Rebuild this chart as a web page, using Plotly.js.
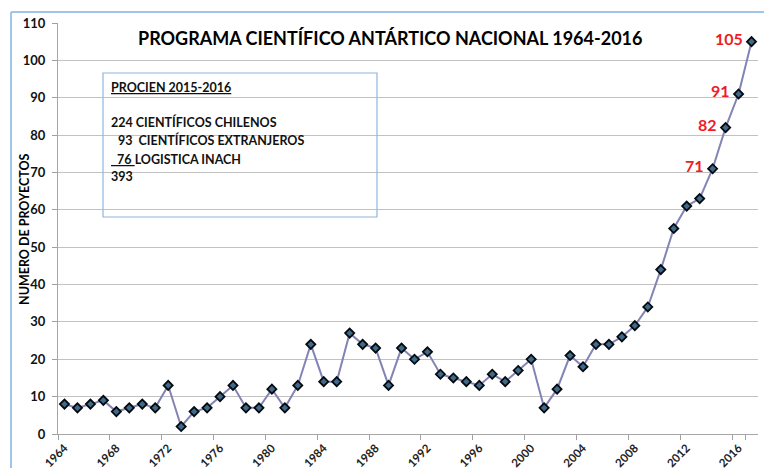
<!DOCTYPE html>
<html><head><meta charset="utf-8">
<script src="https://cdn.plot.ly/plotly-3.0.1.min.js"></script>
<style>html,body{margin:0;padding:0;background:#fff}#chart{width:764px;height:468px}</style>
</head><body><div id="chart"></div>
<script>
const years = ["1964","1965","1966","1967","1968","1969","1970","1971","1972","1973",
  "1974","1975","1976","1977","1978","1979","1980","1981","1982","1983",
  "1984","1985","1986","1987","1988","1989","1990","1991","1992","1993",
  "1994","1995","1996","1997","1998","1999","2000","2001","2002","2003",
  "2004","2005","2006","2007","2008","2009","2010","2011","2012","2013",
  "2014","2015","2016","2017"];
const projects = [8,7,8,9,6,7,8,7,13,2,
  6,7,10,13,7,7,12,7,13,24,
  14,14,27,24,23,13,23,20,22,16,
  15,14,13,16,14,17,20,7,12,21,
  18,24,24,26,29,34,44,55,61,63,
  71,82,91,105];
const tickYears = ["1964","1968","1972","1976","1980","1984","1988","1992","1996","2000","2004","2008","2012","2016"];
const labeledYears = ["2014","2015","2016","2017"];
const chartTitle = "PROGRAMA CIENTÍFICO ANTÁRTICO NACIONAL 1964-2016";
const yTitle = "NUMERO DE PROYECTOS";
const boxHeader = "PROCIEN 2015-2016";
const boxLines = ["224 CIENTÍFICOS CHILENOS", "93\u00a0\u00a0CIENTÍFICOS EXTRANJEROS", "LOGISTICA INACH", "393"];
const logisticaCount = "76";

const L = 58, T = 23, W = 700, H = 411;
const px = x => (x - L) / W;
const py = y => (T + H - y) / H;
const FONT = "Lato, 'Open Sans', sans-serif";

const annotations = [];
annotations.push({xref:'paper', yref:'paper', x:px(390), y:py(38), xanchor:'center', yanchor:'middle',
  text:'<b>'+chartTitle+'</b>', showarrow:false, font:{family:FONT, size:18, color:'#000'}});
annotations.push({xref:'paper', yref:'paper', x:px(24), y:py(229), xanchor:'center', yanchor:'middle',
  text:'<b>'+yTitle+'</b>', textangle:-90, showarrow:false, font:{family:FONT, size:12.5, color:'#000'}});

const boxFont = {family:FONT, size:12.5, color:'#111'};
annotations.push({xref:'paper', yref:'paper', x:px(109), y:py(87), xanchor:'left', yanchor:'middle',
  text:'<b><u>'+boxHeader+'</u></b>', showarrow:false, font:boxFont});
annotations.push({xref:'paper', yref:'paper', x:px(109), y:py(122), xanchor:'left', yanchor:'middle',
  text:'<b>'+boxLines[0]+'</b>', showarrow:false, font:boxFont});
annotations.push({xref:'paper', yref:'paper', x:px(116), y:py(140), xanchor:'left', yanchor:'middle',
  text:'<b>'+boxLines[1]+'</b>', showarrow:false, font:boxFont});
annotations.push({xref:'paper', yref:'paper', x:px(109), y:py(159), xanchor:'left', yanchor:'middle',
  text:'<b><u>\u00a0\u00a0'+logisticaCount+'\u00a0</u>'+boxLines[2]+'</b>', showarrow:false, font:boxFont});
annotations.push({xref:'paper', yref:'paper', x:px(109), y:py(176), xanchor:'left', yanchor:'middle',
  text:'<b>'+boxLines[3]+'</b>', showarrow:false, font:boxFont});

labeledYears.forEach(yr => {
  const i = years.indexOf(yr);
  annotations.push({xref:'x', yref:'y', x:i, y:projects[i], xanchor:'right', yanchor:'middle',
    xshift:-7, yshift:3, text:'<b>'+projects[i]+'</b>', showarrow:false,
    font:{family:FONT, size:16, color:'#ee1c25'}});
});

const shapes = [
  {type:'rect', xref:'paper', yref:'paper', x0:px(103), x1:px(377), y0:py(217), y1:py(73),
    line:{color:'#8fb6dc', width:1.2}, fillcolor:'rgba(0,0,0,0)'},
  {type:'line', xref:'paper', yref:'paper', x0:px(11), x1:px(11), y0:py(12), y1:py(480),
    line:{color:'#9fc5ec', width:2}},
  {type:'line', xref:'paper', yref:'paper', x0:px(11), x1:px(800), y0:py(12), y1:py(12),
    line:{color:'#9fc5ec', width:2}}
];

const trace = {
  x: years, y: projects, type:'scatter', mode:'lines+markers',
  line:{color:'#8383b6', width:2},
  marker:{symbol:'diamond', size:7, color:'#3f6a8a', line:{color:'#050a10', width:1.8}},
  hoverinfo:'skip'
};

const layout = {
  width:764, height:468,
  margin:{l:L, r:764-L-W, t:T, b:468-T-H, pad:0},
  paper_bgcolor:'#fff', plot_bgcolor:'#fff',
  showlegend:false,
  xaxis:{type:'category', tickson:'boundaries', tickmode:'array', tickvals:tickYears, ticktext:tickYears,
    tickangle:-45, ticks:'outside', ticklen:5, tickcolor:'#a0a0a0', showline:true, linecolor:'#a6a6a6', linewidth:1,
    showgrid:false, zeroline:false, range:[-0.5, years.length-0.5], ticklabelstandoff:2,
    tickfont:{family:FONT, size:11.5, color:'#222', weight:'bold'}},
  yaxis:{range:[0,110], tickmode:'array', tickvals:[0,10,20,30,40,50,60,70,80,90,100,110],
    ticks:'outside', ticklen:5, tickcolor:'#a0a0a0', showline:true, linecolor:'#a6a6a6', linewidth:1,
    showgrid:true, gridcolor:'#c2c2c2', gridwidth:1, zeroline:false, ticklabelstandoff:4,
    tickfont:{family:FONT, size:13, color:'#111', weight:'bold'}},
  annotations, shapes
};

Plotly.newPlot('chart', [trace], layout, {staticPlot:true, displayModeBar:false});
</script></body></html>
